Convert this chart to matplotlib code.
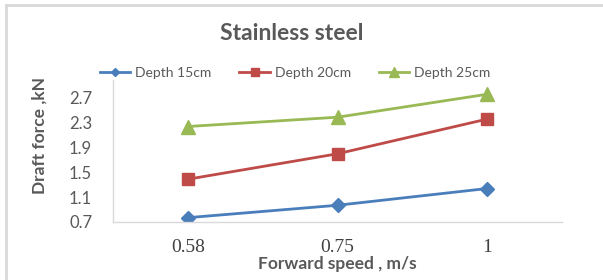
import matplotlib
matplotlib.use("Agg")
import matplotlib.pyplot as plt
from matplotlib.lines import Line2D

# data
speeds = ['0.58', '0.75', '1']
depth_15 = [0.77, 0.97, 1.24]
depth_20 = [1.39, 1.80, 2.36]
depth_25 = [2.24, 2.39, 2.76]
y_ticks = [0.7, 1.1, 1.5, 1.9, 2.3, 2.7]

gray = '#595959'
plt.rcParams['font.family'] = ['Lato', 'DejaVu Sans']

fig = plt.figure(figsize=(6.03, 2.80), dpi=100)
ax = fig.add_axes([113 / 603, 1 - 222 / 280, 449 / 603, 142 / 280])

x = range(len(speeds))
ax.plot(x, depth_15, color='#4a7ebb', lw=2, marker='D', ms=7, label='Depth 15cm')
ax.plot(x, depth_20, color='#be4b48', lw=2, marker='s', ms=9, label='Depth 20cm')
ax.plot(x, depth_25, color='#98b954', lw=2, marker='^', ms=10, label='Depth 25cm')

ax.set_xlim(-0.5, 2.5)
ax.set_ylim(0.7, 2.99)
ax.set_yticks(y_ticks)
ax.set_yticklabels([f'{v:.1f}' for v in y_ticks], fontsize=12, color=gray)
ax.set_xticks(list(x))
ax.set_xticklabels(speeds, fontsize=14, color='#404040', family='Liberation Serif')
ax.tick_params(length=0)
ax.tick_params(axis='y', pad=15)
ax.tick_params(axis='x', pad=12)

for side in ['top', 'right']:
    ax.spines[side].set_visible(False)
for side in ['left', 'bottom']:
    ax.spines[side].set_color('#d9d9d9')
    ax.spines[side].set_linewidth(1)

ax.set_xlabel('Forward speed , m/s', fontsize=12.5, fontweight='bold', color=gray, labelpad=0)
fig.text(40 / 603, 1 - 136 / 280, 'Draft force ,kN', rotation=90, fontsize=12.5,
         fontweight='bold', color=gray, ha='center', va='center')

fig.text(292 / 603, 1 - 33 / 280, 'Stainless steel', fontsize=16.5, fontweight='bold',
         color=gray, ha='center', va='center')

ax.legend(loc='center', bbox_to_anchor=(295 / 603, 1 - 73 / 280),
          bbox_transform=fig.transFigure, ncol=3, frameon=False, fontsize=10,
          labelcolor=gray, handlelength=2.2, columnspacing=2.0, handletextpad=0.35,
          markerscale=0.65)

# light gray chart border (top and left edges visible)
fig.add_artist(Line2D([6 / 603, 1], [1 - 5 / 280, 1 - 5 / 280], color='#d9d9d9', lw=2))
fig.add_artist(Line2D([6 / 603, 6 / 603], [0, 1 - 5 / 280], color='#d9d9d9', lw=2))

fig.savefig('out.png', dpi=100)
